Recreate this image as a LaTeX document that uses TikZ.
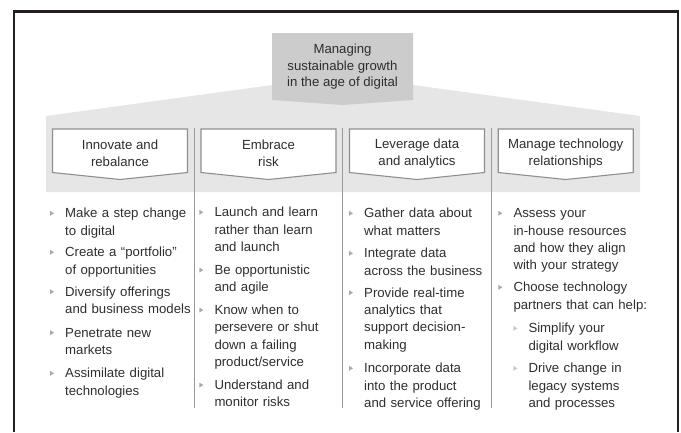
\documentclass[tikz,border=0pt]{standalone}
\usepackage{fontspec}
\setmainfont{Liberation Sans}

\definecolor{ink}{HTML}{2E2E2E}
\definecolor{frame}{HTML}{231F20}
\definecolor{band}{HTML}{E6E6E6}
\definecolor{hub}{HTML}{CCCCCC}
\definecolor{rim}{HTML}{8F8F8F}
\definecolor{rule}{HTML}{9A9A9A}
\definecolor{tick}{HTML}{A8A8A8}
\definecolor{subtick}{HTML}{C8C8C8}

\tikzset{
  head/.style={align=center, inner sep=0pt, text=ink,
    font=\fontsize{13.2}{16.7}\selectfont},
  entry/.style={anchor=base west, inner sep=0pt, text width=140pt,
    align=left, text=ink, font=\fontsize{13.2}{17.3}\selectfont},
}

% small triangle in front of a list entry
\newcommand\pointer[2]{%
  \fill[#2] ([xshift=-15pt,yshift=7pt]#1.base west)
    -- ([xshift=-15pt,yshift=2pt]#1.base west)
    -- ([xshift=-11pt,yshift=4.5pt]#1.base west) -- cycle;}

\begin{document}
\begin{tikzpicture}[x=1pt,y=-1pt]
  \useasboundingbox (0,0) rectangle (681,432);

  \draw[frame, line width=2.2pt] (14.3,432) -- (14.3,11.4) -- (678,11.4) -- (678,432);

  \fill[band] (46,192) -- (46,116) -- (272,85) -- (413,85) -- (640,116) -- (640,192) -- cycle;
  \fill[hub] (272,33) -- (413,33) -- (413,100) -- (342.5,105) -- (272,100) -- cycle;
  \node[head] (goal) at (342.5,66.7) {Managing\\sustainable growth\\in the age of digital};

  \foreach \sx in {194.3,342.8,491.6}
    \draw[rule, line width=0.8pt] (\sx,128) -- (\sx,408);

  \foreach \cx/\txt [count=\i] in {120/{Innovate and\\rebalance}, 268.5/{Embrace\\risk},
      417/{Leverage data\\and analytics}, 565.7/{Manage technology\\relationships}}
  {
    \filldraw[fill=white, draw=rim, line width=1.1pt]
      (\cx-67.5,129) -- (\cx+67.5,129) -- (\cx+67.5,172.5) -- (\cx,179.5) -- (\cx-67.5,172.5) -- cycle;
    \node[head] (pillar\i) at (\cx,153.3) {\txt};
  }

  % innovate and rebalance
  \foreach \y/\txt [count=\i] in {217.8/{Make a step change\\to digital},
      256.8/{Create a “portfolio”\\of opportunities},
      296.2/{Diversify offerings\\and business models},
      337.2/{Penetrate new\\markets},
      377.8/{Assimilate digital\\technologies}}
  {
    \node[entry] (innovate\i) at (65,\y) {\txt};
    \pointer{innovate\i}{tick}
  }

  % embrace risk
  \foreach \y/\txt [count=\i] in {216.8/{Launch and learn\\rather than learn\\and launch},
      274.5/{Be opportunistic\\and agile},
      314.5/{Know when to\\persevere or shut\\down a failing\\product/service},
      389.5/{Understand and\\monitor risks}}
  {
    \node[entry] (risk\i) at (214.3,\y) {\txt};
    \pointer{risk\i}{tick}
  }

  % leverage data and analytics
  \foreach \y/\txt [count=\i] in {217.8/{Gather data about\\what matters},
      257.8/{Integrate data\\across the business},
      297.2/{Provide real-time\\analytics that\\support decision-\\making},
      372.8/{Incorporate data\\into the product\\and service offering}}
  {
    \node[entry] (data\i) at (364,\y) {\txt};
    \pointer{data\i}{tick}
  }

  % manage technology relationships
  \foreach \y/\txt [count=\i] in {217.8/{Assess your\\in-house resources\\and how they align\\with your strategy},
      291.8/{Choose technology\\partners that can help:}}
  {
    \node[entry] (tech\i) at (513.3,\y) {\txt};
    \pointer{tech\i}{tick}
  }
  \foreach \y/\txt [count=\i] in {332.8/{Simplify your\\digital workflow},
      372.8/{Drive change in\\legacy systems\\and processes}}
  {
    \node[entry] (help\i) at (528.3,\y) {\txt};
    \pointer{help\i}{subtick}
  }
\end{tikzpicture}
\end{document}
